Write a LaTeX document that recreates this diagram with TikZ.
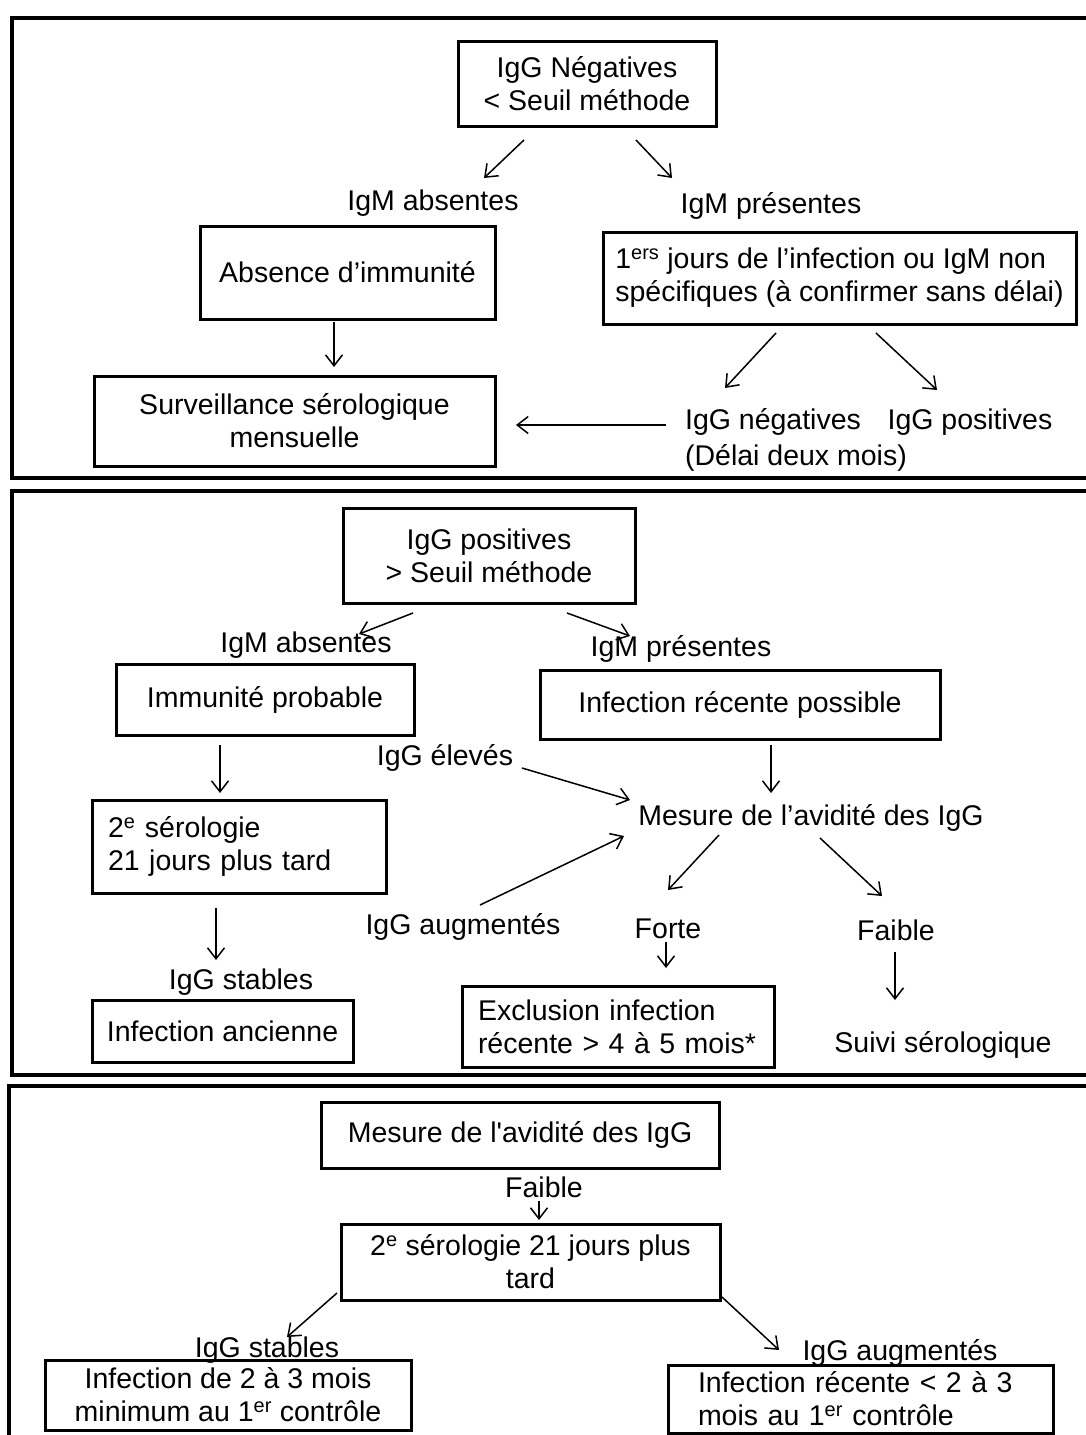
\documentclass[tikz,border=0pt]{standalone}
\usepackage{fontspec}
\setmainfont{Liberation Sans}
\usetikzlibrary{arrows.meta}
\begin{document}
\begin{tikzpicture}[x=1pt,y=-1pt,
  every node/.style={font=\fontsize{28.5}{33}\selectfont, inner sep=0pt},
  box/.style={draw, line width=3pt, align=center},
  lbox/.style={draw, line width=3pt, align=left},
  lbl/.style={align=center},
  arr/.style={line width=1.5pt, -{Straight Barb[length=11pt,width=17pt,line width=1.5pt]}},
  panel/.style={line width=3.5pt}]
\useasboundingbox (0,0) rectangle (1086,1435);
\clip (0,0) rectangle (1086,1435);
\fill[white] (0,0) rectangle (1086,1435);

% ---------- panels ----------
\draw[panel] (1100,18) -- (12,18) -- (12,478) -- (1100,478);
\draw[panel] (1100,491) -- (12,491) -- (12,1075) -- (1100,1075);
\draw[panel] (1100,1086) -- (9,1086) -- (9,1450);

% ---------- panel 1 ----------
\node[box, minimum width=258pt, minimum height=85pt] (n1) at (587,83.5) {IgG Négatives\\< Seuil méthode};
\node[lbl] (lA) at (433,203) {IgM absentes};
\node[lbl] (lP) at (771,206) {IgM présentes};
\node[box, minimum width=295pt, minimum height=93pt] (b2) at (347.5,272.5) {Absence d’immunité};
\node[box, minimum width=473pt, minimum height=92pt, align=left] (b3) at (839.5,278) {1\textsuperscript{ers} jours de l’infection ou IgM non\\spécifiques (à confirmer sans délai)};
\node[box, minimum width=401pt, minimum height=90pt] (b4) at (294.5,421) {Surveillance sérologique\\mensuelle};
\node[lbl] (lN) at (773,422) {IgG négatives};
\node[lbl] (lPos) at (970,422) {IgG positives};
\node[lbl] (lD) at (796,458) {(Délai deux mois)};

\draw[arr] ([shift={(-63,56.5)}]n1.center) -- ([shift={(51,-25)}]lA.center);
\draw[arr] ([shift={(49,56.5)}]n1.center) -- ([shift={(-99,-28)}]lP.center);
\draw[arr] ([shift={(-13.5,49.5)}]b2.center) -- ([shift={(39.5,-54)}]b4.center);
\draw[arr] ([shift={(-63.5,55)}]b3.center) -- ([shift={(-48,-34)}]lN.center);
\draw[arr] ([shift={(36.5,55)}]b3.center) -- ([shift={(-33,-32)}]lPos.center);
\draw[arr] ([shift={(-107,3)}]lN.center) -- ([shift={(221.5,4)}]b4.center);

% ---------- panel 2 ----------
\node[box, minimum width=292pt, minimum height=95pt] (p1) at (489,555.5) {IgG positives\\> Seuil méthode};
\node[lbl] (lA2) at (306,645) {IgM absentes};
\node[lbl] (lP2) at (681,649) {IgM présentes};
\node[box, minimum width=298pt, minimum height=71pt] (p2) at (265,699.5) {Immunité probable};
\node[box, minimum width=400pt, minimum height=69pt] (p3) at (740,704.5) {Infection récente possible};
\node[lbl] (lE) at (445,758) {IgG élevés};
\node[lbl] (mes) at (811,818) {Mesure de l’avidité des IgG};
\node[lbox, text width=262pt, inner xsep=16pt, minimum height=93pt] (p4) at (239,846.5) {2\textsuperscript{e} sérologie\\21 jours plus tard};
\node[lbl] (lAug) at (463,927) {IgG augmentés};
\node[lbl] (lF) at (668,929) {Forte};
\node[lbl] (lFb) at (896,930) {Faible};
\node[lbl] (lS) at (241,982) {IgG stables};
\node[box, minimum width=261pt, minimum height=62pt] (p5) at (222.5,1031) {Infection ancienne};
\node[lbox, text width=280pt, inner xsep=16pt, minimum height=81pt] (p6) at (618,1026.5) {Exclusion infection\\récente > 4 à 5 mois*};
\node[lbl] (lSuivi) at (943,1045) {Suivi sérologique};

\draw[arr] ([shift={(-76,57.5)}]p1.center) -- ([shift={(53,-11)}]lA2.center);
\draw[arr] ([shift={(78,57.5)}]p1.center) -- ([shift={(-51,-13)}]lP2.center);
\draw[arr] ([shift={(-45,45.5)}]p2.center) -- ([shift={(-19,-53.5)}]p4.center);
\draw[arr] ([shift={(31,40.5)}]p3.center) -- ([shift={(-40,-25)}]mes.center);
\draw[arr] ([shift={(77,10)}]lE.center) -- ([shift={(-181,-18)}]mes.center);
\draw[arr] ([shift={(17,-22)}]lAug.center) -- ([shift={(-187,18)}]mes.center);
\draw[arr] ([shift={(-92,17)}]mes.center) -- ([shift={(0,-39)}]lF.center);
\draw[arr] ([shift={(9,20)}]mes.center) -- ([shift={(-14,-34)}]lFb.center);
\draw[arr] ([shift={(-2,13)}]lF.center) -- ([shift={(48,-58.5)}]p6.center);
\draw[arr] ([shift={(-1,22)}]lFb.center) -- ([shift={(-48,-45)}]lSuivi.center);
\draw[arr] ([shift={(-23,61.5)}]p4.center) -- ([shift={(-25,-22)}]lS.center);

% ---------- panel 3 ----------
\node[box, minimum width=398pt, minimum height=66pt] (q1) at (520,1135) {Mesure de l\textquotesingle avidité des IgG};
\node[lbl] (lFb3) at (544,1187) {Faible};
\node[box, minimum width=379pt, minimum height=76pt] (q2) at (530.5,1262) {2\textsuperscript{e} sérologie 21 jours plus\\tard};
\node[lbl] (lS3) at (267,1350) {IgG stables};
\node[lbl] (lAug3) at (900,1353) {IgG augmentés};
\node[box, minimum width=366pt, minimum height=70pt] (q3) at (228,1395) {Infection de 2 à 3 mois\\minimum au 1\textsuperscript{er} contrôle};
\node[lbox, text width=325pt, inner xsep=30pt, minimum height=68pt] (q4) at (860.5,1399) {Infection récente < 2 à 3\\mois au 1\textsuperscript{er} contrôle};

\draw[arr] ([shift={(-5,14)}]lFb3.center) -- ([shift={(8.5,-42)}]q2.center);
\draw[arr] ([shift={(-193.5,31)}]q2.center) -- ([shift={(20,-13)}]lS3.center);
\draw[arr] ([shift={(191.5,35)}]q2.center) -- ([shift={(-121,-3)}]lAug3.center);
\end{tikzpicture}
\end{document}
